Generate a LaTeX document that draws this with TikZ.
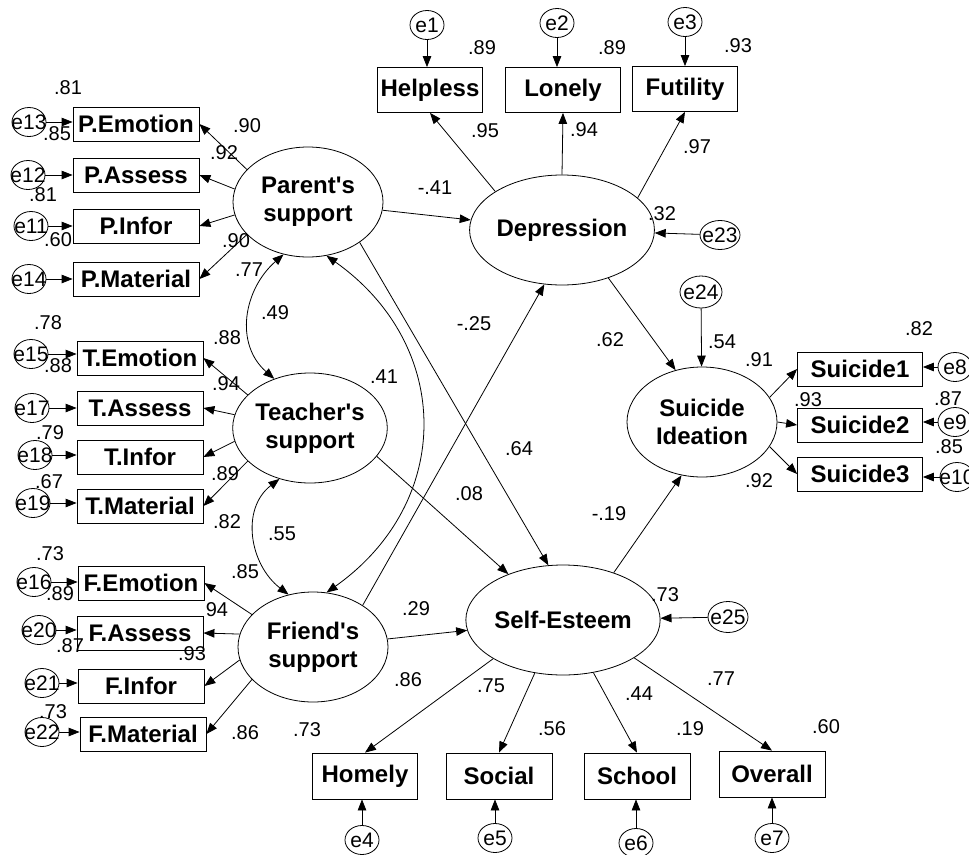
\documentclass[tikz,border=0pt]{standalone}
\usepackage{fontspec}
\setmainfont{Liberation Sans}
\usetikzlibrary{arrows.meta,shapes.geometric}
\newcommand{\errtxt}[1]{\makebox[0pt]{e#1}}

\begin{document}
\begin{tikzpicture}[x=1pt,y=-1pt,line width=0.8pt,
    >={Triangle[length=11pt,width=8.5pt]},
    lat/.style={draw,ellipse,minimum width=150pt,minimum height=110pt,inner sep=0pt,align=center,font=\fontsize{24}{28}\selectfont\bfseries},
    obs/.style={draw,rectangle,minimum width=126pt,minimum height=34pt,inner sep=0pt,font=\fontsize{24}{28}\selectfont\bfseries},
    err/.style={draw,ellipse,minimum width=34pt,minimum height=29pt,inner sep=0pt,font=\fontsize{21}{21}\selectfont},
    lab/.style={inner sep=0pt,font=\fontsize{20}{20}\selectfont}]
                \useasboundingbox (0,0) rectangle (969,854);

                \node[lat] (par) at (308,202) {Parent\textquotesingle s\\support};
                \node[lat] (tea) at (310,428) {Teacher\textquotesingle s\\support};
                \node[lat] (fri) at (313,647) {Friend\textquotesingle s\\support};
                \node[lat] (dep) at (562,230) {Depression};
                \node[lat] (sui) at (702,422) {Suicide\\Ideation};
                \node[lat] (se) at (563,620) {Self-Esteem};

                \node[obs] (pemo) at (136,124) {P.Emotion};
                \node[obs] (pass) at (136,175) {P.Assess};
                \node[obs] (pinf) at (136,226) {P.Infor};
                \node[obs] (pmat) at (136,279) {P.Material};
                \node[obs] (temo) at (140,358) {T.Emotion};
                \node[obs] (tass) at (140,408) {T.Assess};
                \node[obs] (tinf) at (140,457) {T.Infor};
                \node[obs] (tmat) at (140,506) {T.Material};
                \node[obs] (femo) at (141,583) {F.Emotion};
                \node[obs] (fass) at (140,633) {F.Assess};
                \node[obs] (finf) at (141,686) {F.Infor};
                \node[obs] (fmat) at (143,734) {F.Material};

                \node[obs,minimum width=105pt,minimum height=45pt] (help) at (430,90) {Helpless};
                \node[obs,minimum width=115pt,minimum height=45pt] (lone) at (563,90) {Lonely};
                \node[obs,minimum width=105pt,minimum height=45pt] (futi) at (685,89) {Futility};

                \node[obs,minimum width=125pt] (sui1) at (860,369) {Suicide1};
                \node[obs,minimum width=125pt] (sui2) at (860,425) {Suicide2};
                \node[obs,minimum width=125pt] (sui3) at (860,474) {Suicide3};

                \node[obs,minimum width=105pt,minimum height=46pt] (home) at (365,776) {Homely};
                \node[obs,minimum width=106pt,minimum height=46pt] (soci) at (499,776) {Social};
                \node[obs,minimum width=106pt,minimum height=46pt] (scho) at (637,776) {School};
                \node[obs,minimum width=106pt,minimum height=46pt] (over) at (772,774) {Overall};

                \node[err] (e1) at (427,25) {\errtxt{1}};
                \node[err] (e2) at (557,23) {\errtxt{2}};
                \node[err] (e3) at (685,22) {\errtxt{3}};
                \node[err] (e4) at (362,840) {\errtxt{4}};
                \node[err] (e5) at (495,838) {\errtxt{5}};
                \node[err] (e6) at (636,843) {\errtxt{6}};
                \node[err] (e7) at (772,838) {\errtxt{7}};
                \node[err] (e8) at (955,367) {\errtxt{8}};
                \node[err] (e9) at (955,422) {\errtxt{9}};
                \node[err] (e10) at (957,477) {\errtxt{10}};
                \node[err] (e11) at (31,226) {\errtxt{11}};
                \node[err] (e12) at (28,175) {\errtxt{12}};
                \node[err] (e13) at (29,122) {\errtxt{13}};
                \node[err] (e14) at (29,279) {\errtxt{14}};
                \node[err] (e15) at (31,354) {\errtxt{15}};
                \node[err] (e16) at (34,582) {\errtxt{16}};
                \node[err] (e17) at (32,408) {\errtxt{17}};
                \node[err] (e18) at (35,455) {\errtxt{18}};
                \node[err] (e19) at (33,503) {\errtxt{19}};
                \node[err] (e20) at (39,630) {\errtxt{20}};
                \node[err] (e21) at (42,683) {\errtxt{21}};
                \node[err] (e22) at (42,732) {\errtxt{22}};
                \node[err,minimum width=40pt] (e23) at (720,235) {\errtxt{23}};
                \node[err,minimum width=42pt,minimum height=32pt] (e24) at (701,292) {\errtxt{24}};
                \node[err,minimum width=40pt,minimum height=31pt] (e25) at (728,617) {\errtxt{25}};

                \draw[->] (e1) -- (e1 |- help.north);
                \draw[->] (e2) -- (e2 |- lone.north);
                \draw[->] (e3) -- (e3 |- futi.north);
                \draw[->] (e4) -- (e4 |- home.south);
                \draw[->] (e5) -- (e5 |- soci.south);
                \draw[->] (e6) -- (e6 |- scho.south);
                \draw[->] (e7) -- (e7 |- over.south);
                \draw[->] (e8) -- (e8 -| sui1.east);
                \draw[->] (e9) -- (e9 -| sui2.east);
                \draw[->] (e10) -- (e10 -| sui3.east);
                \draw[->] (e13) -- (e13 -| pemo.west);
                \draw[->] (e12) -- (e12 -| pass.west);
                \draw[->] (e11) -- (e11 -| pinf.west);
                \draw[->] (e14) -- (e14 -| pmat.west);
                \draw[->] (e15) -- (e15 -| temo.west);
                \draw[->] (e17) -- (e17 -| tass.west);
                \draw[->] (e18) -- (e18 -| tinf.west);
                \draw[->] (e19) -- (e19 -| tmat.west);
                \draw[->] (e16) -- (e16 -| femo.west);
                \draw[->] (e20) -- (e20 -| fass.west);
                \draw[->] (e21) -- (e21 -| finf.west);
                \draw[->] (e22) -- (e22 -| fmat.west);
                \draw[->] (e23) -- (dep);
                \draw[->] (e24) -- (sui);
                \draw[->] (e25) -- (se);

                \draw[->] (par.152) -- (pemo.east);
                \draw[->] (par.170) -- (pass.east);
                \draw[->] (par.190) -- (pinf.east);
                \draw[->] (par.208) -- (pmat.east);
                \draw[->] (tea.152) -- (temo.east);
                \draw[->] (tea.170) -- (tass.east);
                \draw[->] (tea.190) -- (tinf.east);
                \draw[->] (tea.208) -- (tmat.east);
                \draw[->] (fri.152) -- (femo.east);
                \draw[->] (fri.170) -- (fass.east);
                \draw[->] (fri.190) -- (finf.east);
                \draw[->] (fri.208) -- (fmat.east);

                \draw[->] (dep.150) -- (help.south);
                \draw[->] (dep.north) -- (lone.south);
                \draw[->] (dep.23) -- (futi.south);
                \draw[->] (se.209) -- (home.north);
                \draw[->] (se.242) -- (soci.north);
                \draw[->] (se.300) -- (scho.north);
                \draw[->] (se.332) -- (over.north);
                \draw[->] (sui.20) -- (sui1.west);
                \draw[->] (sui.east) -- (sui2.west);
                \draw[->] (sui.340) -- (sui3.west);

                \draw[->] (par) -- (dep);
                \draw[->] (par.322) -- (se.105);
                \draw[->] (tea.337) -- (se.140);
                \draw[->] (fri.40) -- (dep.252);
                \draw[->] (fri) -- (se);
                \draw[->] (dep.314) -- (sui.117);
                \draw[->] (se.43) -- (sui.249);

                \draw[<->] (par.245) .. controls +(-40,35) and +(-40,-35) .. (tea.126);
                \draw[<->] (tea.239) .. controls +(-39,30) and +(-39,-30) .. (fri.115);
                \draw[<->] (par.289) .. controls +(127,90) and +(127,-90) .. (fri.76);

                \node[lab] (rhelp) at (482,48) {.89};
                \node[lab] (rlone) at (612,48) {.89};
                \node[lab] (rfuti) at (738,46) {.93};
                \node[lab] (lhelp) at (485,131) {.95};
                \node[lab] (llone) at (584,130) {.94};
                \node[lab] (lfuti) at (697,147) {.97};
                \node[lab] (bpardep) at (435,188) {-.41};
                \node[lab] (rdep) at (662,214) {.32};

                \node[lab] (rpemo) at (68,88) {.81};
                \node[lab] (rpass) at (57,134) {.85};
                \node[lab] (lpemo) at (247,126) {.90};
                \node[lab] (lpass) at (224,153) {.92};
                \node[lab] (rpinf) at (43,195) {.81};
                \node[lab] (rpmat) at (58,240) {.60};
                \node[lab] (lpinf) at (236,241) {.90};
                \node[lab] (lpmat) at (249,270) {.77};
                \node[lab] (cpartea) at (275,313) {.49};

                \node[lab] (rtemo) at (48,323) {.78};
                \node[lab] (rtass) at (58,366) {.88};
                \node[lab] (ltemo) at (227,338) {.88};
                \node[lab] (ltass) at (226,384) {.94};
                \node[lab] (rtinf) at (50,433) {.79};
                \node[lab] (rtmat) at (49,482) {.67};
                \node[lab] (ltinf) at (225,474) {.89};
                \node[lab] (ltmat) at (227,522) {.82};
                \node[lab] (cparfri) at (384,377) {.41};
                \node[lab] (bfridep) at (474,324) {-.25};

                \node[lab] (cteafri) at (282,534) {.55};
                \node[lab] (rfemo) at (50,554) {.73};
                \node[lab] (rfass) at (60,594) {.89};
                \node[lab] (lfemo) at (245,572) {.85};
                \node[lab] (lfass) at (217,610) {94};
                \node[lab] (rfinf) at (70,646) {.87};
                \node[lab] (lfinf) at (192,654) {.93};
                \node[lab] (rfmat) at (53,712) {.73};
                \node[lab] (lfmat) at (245,733) {.86};

                \node[lab] (bparse) at (519,449) {.64};
                \node[lab] (bteese) at (469,494) {.08};
                \node[lab] (bfrise) at (416,609) {.29};
                \node[lab] (bsesui) at (609,514) {-.19};
                \node[lab] (rse) at (665,595) {.73};

                \node[lab] (lhome) at (408,680) {.86};
                \node[lab] (lsoci) at (491,686) {.75};
                \node[lab] (lscho) at (639,694) {.44};
                \node[lab] (lover) at (721,679) {.77};
                \node[lab] (rhome) at (307,730) {.73};
                \node[lab] (rsoci) at (552,729) {.56};
                \node[lab] (rscho) at (690,729) {.19};
                \node[lab] (rover) at (826,727) {.60};

                \node[lab] (bdepsui) at (610,340) {.62};
                \node[lab] (rsui) at (722,342) {.54};
                \node[lab] (lsui1) at (759,360) {.91};
                \node[lab] (rsui1) at (919,329) {.82};
                \node[lab] (lsui2) at (808,400) {.93};
                \node[lab] (rsui2) at (948,399) {.87};
                \node[lab] (rsui3) at (949,447) {.85};
                \node[lab] (lsui3) at (759,481) {.92};
            \end{tikzpicture}
\end{document}
